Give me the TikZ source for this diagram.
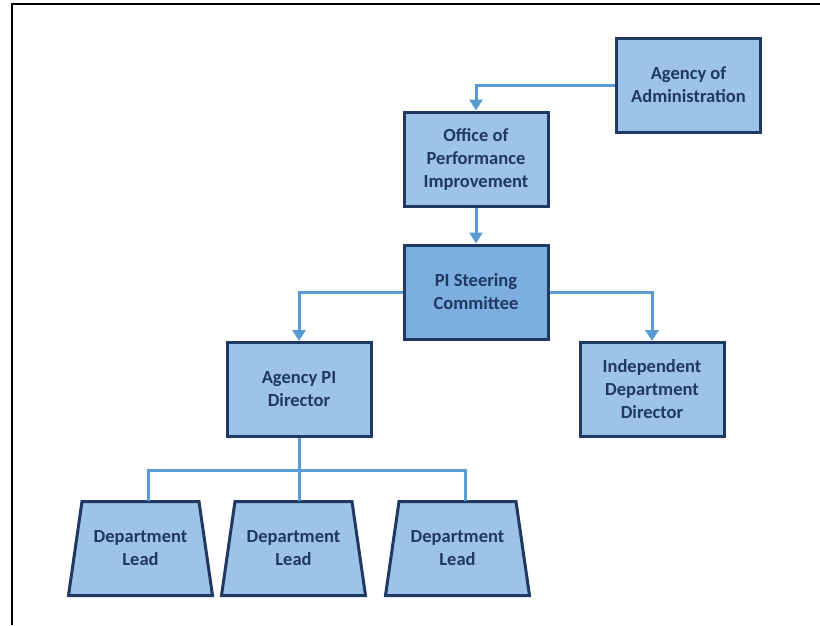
\documentclass[tikz,border=0pt]{standalone}
\usepackage{fontspec}
\setmainfont{Carlito}
\usepackage{tikz}
\usetikzlibrary{positioning,arrows.meta}
\definecolor{boxfill}{RGB}{157,195,230}
\definecolor{boxdark}{RGB}{125,174,224}
\definecolor{boxedge}{RGB}{31,56,100}
\definecolor{linkblue}{RGB}{91,155,213}
\tikzset{
  label text/.style={text=boxedge, align=center,
    font=\fontsize{18.5}{23}\selectfont\bfseries},
  unit/.style={label text, draw=boxedge, line width=3pt, fill=boxfill,
    minimum width=144pt, minimum height=94pt, inner sep=0pt},
  leadedge/.style={draw=boxedge, line width=3pt, fill=boxfill, line join=miter},
  link/.style={draw=linkblue, line width=3pt},
  feed/.style={link, -{Triangle[width=13pt,length=11pt]}}
}

\begin{document}
\begin{tikzpicture}[x=1pt, y=-1pt]
  \useasboundingbox (0,0) rectangle (820,625);
  % frame
  \draw[line width=2pt] (12,625) -- (12,4) -- (820,4);

  % boxes
  \node[unit] (aoa)  at (688.5,85)   {Agency of\\Administration};
  \node[unit] (opi)  at (476,159)    {Office of\\Performance\\Improvement};
  \node[unit, fill=boxdark] (pisc) at (476,292) {PI Steering\\Committee};
  \node[unit] (apd)  at (299,389.5)  {Agency PI\\Director};
  \node[unit] (idd)  at (652,389.5)  {Independent\\Department\\Director};

  % department leads
  \foreach \i/\x in {1/140.5, 2/293.5, 3/457.5} {
    \draw[leadedge] (\x-58.5,501.5) -- (\x+58.5,501.5)
      -- (\x+72,595.5) -- (\x-72,595.5) -- cycle;
    \node[label text, minimum width=144pt, minimum height=94pt,
      inner sep=0pt] (lead\i) at (\x,548.5) {Department\\Lead};
  }

  % connectors
  \draw[feed] (aoa.west) -| (opi.north);
  \draw[feed] (opi.south) -- (pisc.north);
  \draw[feed] (pisc.west) -| (apd.north);
  \draw[feed] (pisc.east) -| (idd.north);

  \coordinate (bus1) at (148,470);
  \coordinate (bus3) at (465,470);
  \draw[link] (bus1 |- lead1.north) -- (bus1) -- (bus3) -- (bus3 |- lead3.north);
  \draw[link] (apd.south) -- (apd.south |- lead2.north);
\end{tikzpicture}
\end{document}
